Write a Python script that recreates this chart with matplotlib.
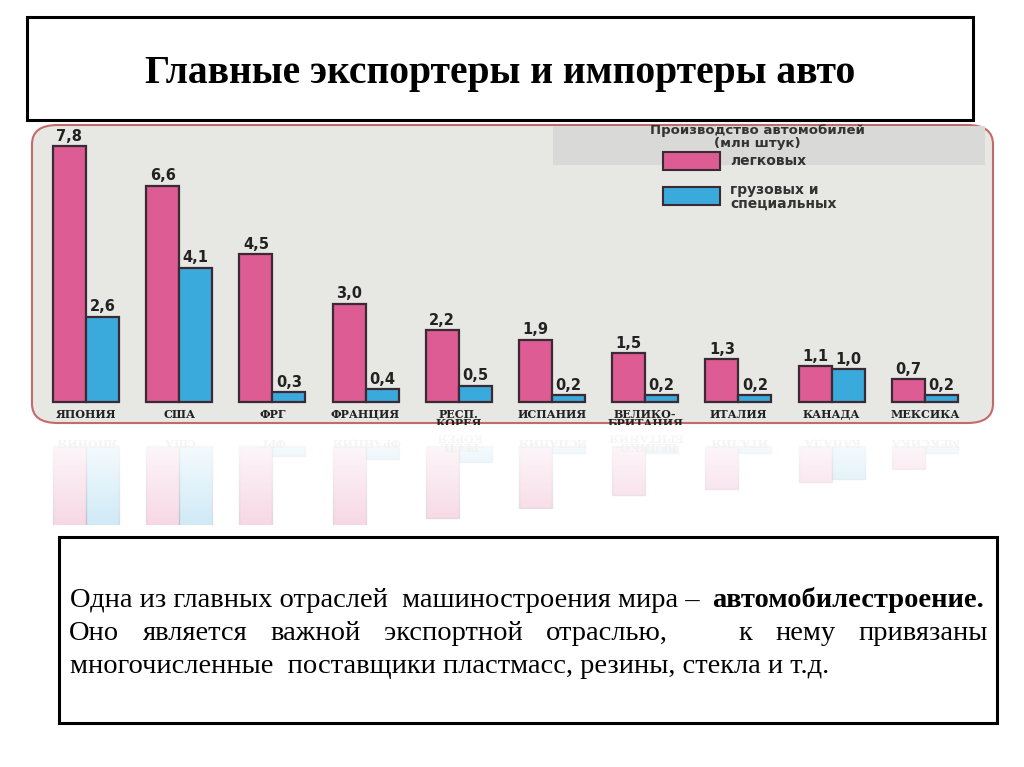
import numpy as np
import matplotlib
matplotlib.use("Agg")
import matplotlib.pyplot as plt
from matplotlib.patches import FancyBboxPatch, Rectangle

# ---------------- data ----------------
countries = ["ЯПОНИЯ", "США", "ФРГ", "ФРАНЦИЯ", "РЕСП.\nКОРЕЯ", "ИСПАНИЯ",
             "ВЕЛИКО-\nБРИТАНИЯ", "ИТАЛИЯ", "КАНАДА", "МЕКСИКА"]
passenger = [7.8, 6.6, 4.5, 3.0, 2.2, 1.9, 1.5, 1.3, 1.1, 0.7]
trucks = [2.6, 4.1, 0.3, 0.4, 0.5, 0.2, 0.2, 0.2, 1.0, 0.2]
value_labels_p = ["7,8", "6,6", "4,5", "3,0", "2,2", "1,9", "1,5", "1,3", "1,1", "0,7"]
value_labels_t = ["2,6", "4,1", "0,3", "0,4", "0,5", "0,2", "0,2", "0,2", "1,0", "0,2"]
legend_title = "Производство автомобилей\n(млн штук)"
series_names = ["легковых", "грузовых и\nспециальных"]
title = "Главные экспортеры и импортеры авто"
line1_normal = "Одна из главных отраслей  машиностроения мира – "
line1_bold = "автомобилестроение."
line2_words = ["Оно", "является", "важной", "экспортной", "отраслью,", "к", "нему", "привязаны"]
line3 = "многочисленные  поставщики пластмасс, резины, стекла и т.д."

PINK = "#dc5c93"
BLUE = "#3aaadc"
EDGE = "#3a2a33"
BG = "#e7e7e4"

W, H = 1024, 767
fig = plt.figure(figsize=(W / 100, H / 100), dpi=100)
fig.patch.set_facecolor("white")


def fx(px):
    return px / W


def fy(py):
    return 1 - py / H


# ---------------- title box ----------------
fig.patches.append(Rectangle((fx(27), fy(120)), fx(973) - fx(27), fy(17) - fy(120),
                             transform=fig.transFigure, fill=False, ec="black", lw=2.2))
fig.text(fx(500), fy(73), title, ha="center", va="center", fontsize=28.5,
         fontweight="bold", family="Liberation Serif", color="black")

# ---------------- chart background ----------------
fig.patches.append(FancyBboxPatch((fx(32), fy(423)), fx(993) - fx(32), fy(125) - fy(423),
                                  boxstyle="round,pad=0,rounding_size=0.025",
                                  transform=fig.transFigure, fc=BG, ec="#c46a6a", lw=1.5,
                                  zorder=0))
fig.patches.append(Rectangle((fx(553), fy(165)), fx(985) - fx(553), fy(126) - fy(165),
                             transform=fig.transFigure, fc="#d9d9d7", ec="none", zorder=0.5))

# ---------------- main axes ----------------
scale = 32.8  # px per unit
step = 93.2   # px between groups
c0 = 86
ax_l, ax_r, ax_t, ax_b = 30, 995, 123, 425
base = 402
ax = fig.add_axes([fx(ax_l), fy(ax_b), fx(ax_r) - fx(ax_l), fy(ax_t) - fy(ax_b)])
ax.set_zorder(3)
ax.set_xlim((ax_l - c0) / step, (ax_r - c0) / step)
ax.set_ylim(-(ax_b - base) / scale, (base - ax_t) / scale)
ax.axis("off")
ax.patch.set_alpha(0)

x = np.arange(len(countries))
bw = 33 / step
ax.bar(x - bw / 2, passenger, bw, color=PINK, edgecolor=EDGE, lw=1.6, zorder=3)
ax.bar(x + bw / 2, trucks, bw, color=BLUE, edgecolor=EDGE, lw=1.6, zorder=3)
for i in range(len(countries)):
    ax.text(x[i] - bw / 2, passenger[i] + 0.07, value_labels_p[i], ha="center", va="bottom",
            fontsize=10.5, fontweight="bold", color="#222222", family="DejaVu Sans")
    ax.text(x[i] + bw / 2, trucks[i] + 0.07, value_labels_t[i], ha="center", va="bottom",
            fontsize=10.5, fontweight="bold", color="#222222", family="DejaVu Sans")
    ax.text(x[i], -0.2, countries[i], ha="center", va="top", fontsize=8,
            fontweight="bold", color="#222222", family="DejaVu Serif", linespacing=0.85)

# ---------------- legend ----------------
fig.text(fx(757), fy(137), legend_title, ha="center", va="center", fontsize=9.5,
         fontweight="bold", color="#333333", family="DejaVu Sans", linespacing=1.0)
fig.patches.append(Rectangle((fx(663), fy(170)), fx(720) - fx(663), fy(152) - fy(170),
                             transform=fig.transFigure, fc=PINK, ec=EDGE, lw=1.5, zorder=2))
fig.patches.append(Rectangle((fx(663), fy(205)), fx(720) - fx(663), fy(187) - fy(205),
                             transform=fig.transFigure, fc=BLUE, ec=EDGE, lw=1.5, zorder=2))
fig.text(fx(730), fy(161), series_names[0], ha="left", va="center", fontsize=10,
         fontweight="bold", color="#333333", family="DejaVu Sans")
fig.text(fx(730), fy(197), series_names[1], ha="left", va="center", fontsize=10,
         fontweight="bold", color="#333333", family="DejaVu Sans", linespacing=1.0)

# ---------------- reflection ----------------
r_t, r_b = 425, 525
rax = fig.add_axes([fx(ax_l), fy(r_b), fx(ax_r) - fx(ax_l), fy(r_t) - fy(r_b)])
rax.set_zorder(3)
rbase = 2 * 424 - base
top_val = -(rbase - r_t) / scale
rax.set_xlim(ax.get_xlim())
rax.set_ylim(top_val + (r_b - r_t) / scale, top_val)
rax.axis("off")
rax.patch.set_alpha(0)
rax.bar(x - bw / 2, passenger, bw, color=PINK, edgecolor="#999999", lw=1.0, alpha=0.25)
rax.bar(x + bw / 2, trucks, bw, color=BLUE, edgecolor="#999999", lw=1.0, alpha=0.25)
for i in range(len(countries)):
    rax.text(x[i], -0.15, countries[i], ha="center", va="center", fontsize=8,
             fontweight="bold", color="#c8c8c8", family="DejaVu Serif",
             linespacing=0.85, rotation=180)
grad = np.zeros((100, 2, 4))
grad[..., :3] = 1.0
grad[..., 3] = np.linspace(0.05, 1.0, 100)[:, None]
rax.imshow(grad, extent=(*rax.get_xlim(), *rax.get_ylim()[::-1]), aspect="auto",
           origin="upper", zorder=10)
rax.set_xlim(ax.get_xlim())
rax.set_ylim(top_val + (r_b - r_t) / scale, top_val)

# ---------------- text box ----------------
fig.patches.append(Rectangle((fx(59), fy(723)), fx(997) - fx(59), fy(537) - fy(723),
                             transform=fig.transFigure, fill=False, ec="black", lw=2.2))
tkw = dict(fontsize=20.5, family="Liberation Serif", color="black", va="baseline", ha="left")
fig.text(fx(70), fy(607), line1_normal, **tkw)
fig.text(fx(712), fy(607), line1_bold, fontweight="bold", **tkw)
fig.text(fx(70), fy(673), line3, **tkw)

# justified second line
renderer = fig.canvas.get_renderer()
texts = [fig.text(0, fy(640), w_, **tkw) for w_ in line2_words]
widths = [t.get_window_extent(renderer).width for t in texts]
gap_units = [1, 1, 1, 1, 3, 1, 1]
left, right = 69, 988
unit = (right - left - sum(widths)) / sum(gap_units)
xpos = left
for k, t in enumerate(texts):
    t.set_x(fx(xpos))
    if k < len(gap_units):
        xpos += widths[k] + gap_units[k] * unit

fig.savefig("out.png", dpi=100)
